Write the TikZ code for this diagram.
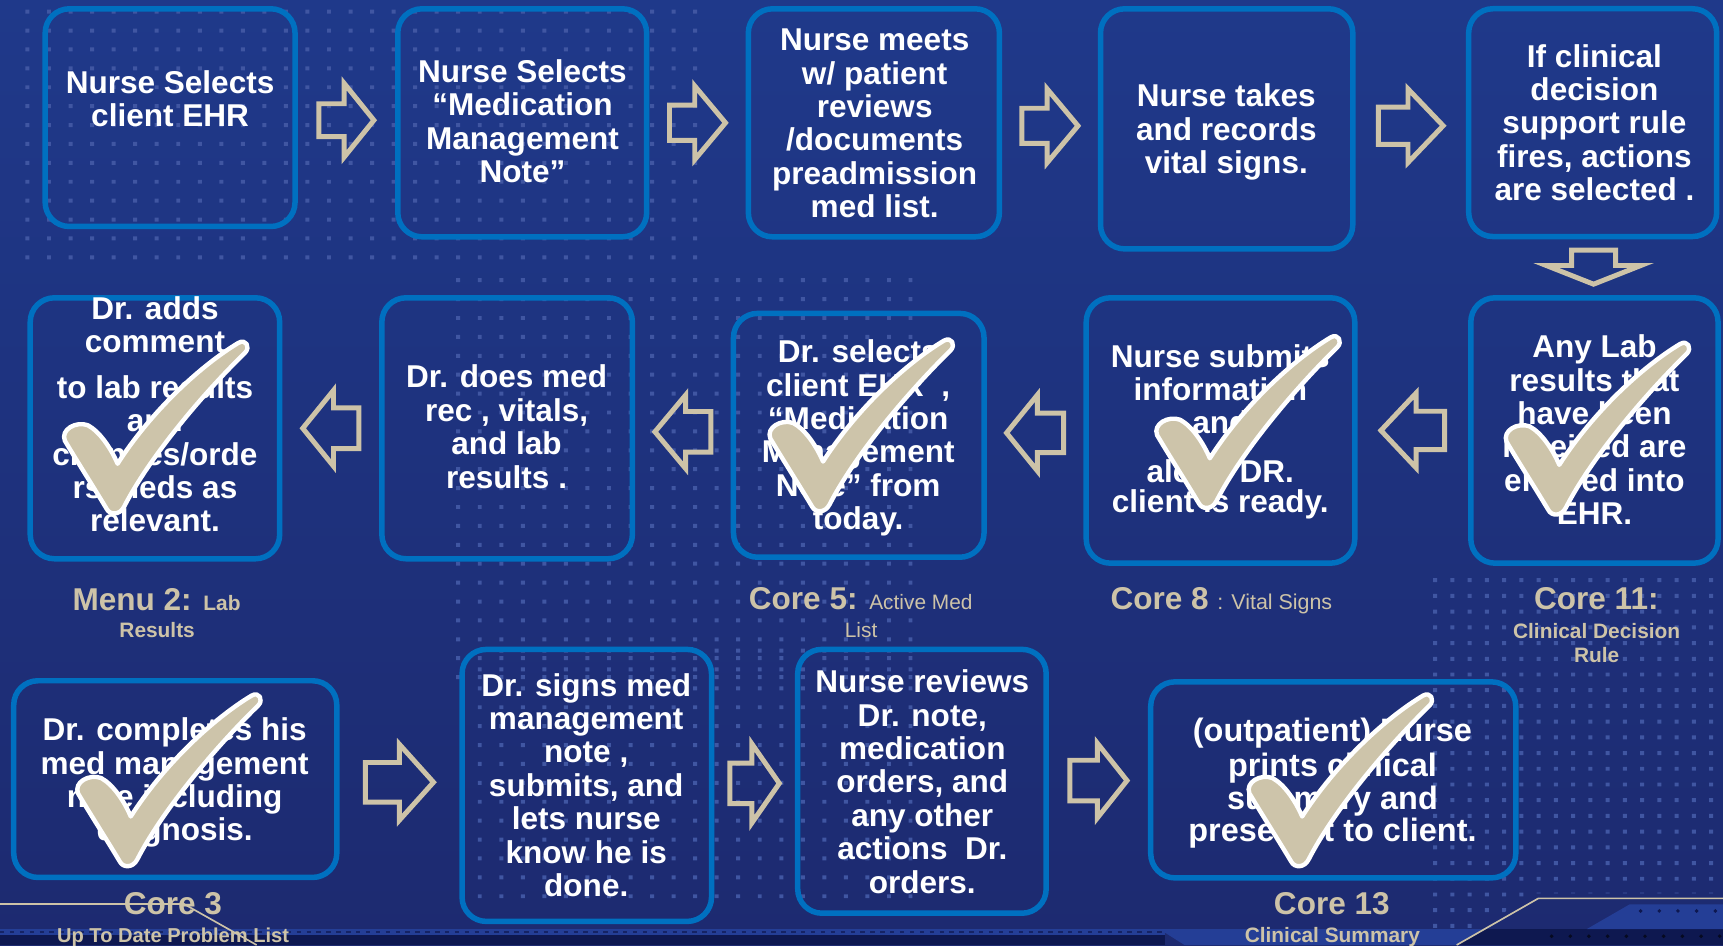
\documentclass[tikz,border=0pt]{standalone}
\usepackage{fontspec}
\setmainfont{Liberation Sans}
\usetikzlibrary{calc}
\definecolor{bgtop}{RGB}{31,57,138}
\definecolor{bgbot}{RGB}{29,42,112}
\definecolor{boxblue}{RGB}{0,112,192}
\definecolor{beige}{RGB}{205,195,168}
\definecolor{dotc}{RGB}{64,86,162}
\definecolor{navydark}{RGB}{14,24,80}
\definecolor{bandlight}{RGB}{36,62,150}
\definecolor{chkfill}{RGB}{205,196,170}
\newcommand\dotfield[6]{%
  \foreach \i in {0,...,#3}{\fill[dotc] \foreach \j in {0,...,#4}{({#1+\i*#5-1.8},{#2+\j*#6-1.8}) rectangle ++(3.6,3.6)};}}
\tikzset{
  box/.style={draw=boxblue, line width=5pt, rounded corners=22pt, inner sep=0pt},
  txt/.style={text=white, font=\fontsize{28.7}{30.4}\selectfont\bfseries, align=center, inner sep=0pt, anchor=north},
  lbig/.style={text=beige, font=\fontsize{28.7}{30.4}\selectfont\bfseries, inner sep=0pt, anchor=base},
  lsmall/.style={text=beige, font=\fontsize{19}{22}\selectfont\bfseries, inner sep=0pt, anchor=base},
  lreg/.style={text=beige, font=\fontsize{19}{22}\selectfont, inner sep=0pt, anchor=base},
  arrowline/.style={draw=beige, line width=4.5pt, line join=miter},
  decoline/.style={draw=beige, line width=1.5pt},
  pics/barrow/.style n args={4}{code={
    \path[arrowline] ({-#1/2},{-#3/2}) -- ({#1/2-#2},{-#3/2}) -- ({#1/2-#2},{-#4/2}) -- ({#1/2},0)
      -- ({#1/2-#2},{#4/2}) -- ({#1/2-#2},{#3/2}) -- ({-#1/2},{#3/2}) -- cycle;
  }},
  pics/chk/.style={code={
    \path[fill=chkfill, draw=white, line width=4pt, line join=round]
      (0,0) .. controls (-12,-20) and (-28,-45) .. (-38,-62)
      .. controls (-42,-72) and (-28,-80) .. (-17,-76)
      .. controls (-6,-70) and (4,-55) .. (10,-41)
      .. controls (40,-88) and (85,-130) .. (120,-151)
      .. controls (127,-155) and (131,-147) .. (126,-142)
      .. controls (85,-102) and (38,-45) .. (16,-2)
      .. controls (12,6) and (3,6) .. (0,0) -- cycle;
  }},
}
\begin{document}
\begin{tikzpicture}[x=1pt, y=-1pt]
\useasboundingbox (0,0) rectangle (1568,860);
\shade[top color=bgtop, bottom color=bgbot] (0,0) rectangle (1568,860);

% dot fields
\dotfield{25}{10.6}{31}{13}{19.6}{17.2}
\dotfield{417}{255}{21}{21}{19.6}{17.2}
\dotfield{436.6}{592}{20}{13}{19.6}{17.2}
\begin{scope}
  \clip (1300,520) -- (1568,520) -- (1568,813) -- (1398,813) -- (1322,858) -- (1300,858) -- cycle;
  \dotfield{1306}{528}{16}{22}{15.7}{14.3}
\end{scope}

% bottom strip
\fill[bandlight] (0,845.5) rectangle (1060,851);
\draw[navydark!70!bandlight, line width=1.5pt, dash pattern=on 4pt off 5pt] (0,848.2) -- (1060,848.2);
\fill[navydark] (0,851) rectangle (1060,860);
\fill[bandlight] (1055,845.5) -- (1350,845.5) -- (1326,860) -- (1078,860) -- cycle;
\fill[navydark] (1350,845.5) -- (1568,845.5) -- (1568,860) -- (1326,860) -- cycle;
\fill[bandlight] (1483,823) -- (1568,823) -- (1568,845.5) -- (1444,845.5) -- cycle;
\fill[navydark] \foreach \k in {0,...,5}{(1493+\k*17,829) circle (1.8)};
\fill[black!60!navydark] \foreach \k in {0,...,9}{(1412+\k*17,852) circle (1.8)};
\path[decoline] (0,822.7) -- (167.5,822.7) -- (233.6,860);
\path[decoline] (1325.6,860) -- (1400,817.5) -- (1568,817.5);

% boxes
\node[box, minimum width=227.4, minimum height=198.1] (b1) at (154.8,107.05) {};
\node[box, minimum width=226.5, minimum height=207.5] (b2) at (475.25,111.75) {};
\node[box, minimum width=228.5, minimum height=207.5] (b3) at (795.25,111.75) {};
\node[box, minimum width=229.6, minimum height=218.5] (b4) at (1116.3,117.25) {};
\node[box, minimum width=225.7, minimum height=207.3] (b5) at (1449.4,111.6) {};
\node[box, minimum width=227, minimum height=237.5] (b6) at (141,389.75) {};
\node[box, minimum width=228, minimum height=237.5] (b7) at (461.5,389.75) {};
\node[box, minimum width=228, minimum height=221.9] (b8) at (781.5,396.15) {};
\node[box, minimum width=244.4, minimum height=241.5] (b9) at (1110.7,391.75) {};
\node[box, minimum width=225, minimum height=241.5] (b10) at (1451,391.75) {};
\node[box, minimum width=294, minimum height=179] (b11) at (159.5,709) {};
\node[box, minimum width=227, minimum height=247.5] (b12) at (534,714.75) {};
\node[box, minimum width=226.1, minimum height=240.1] (b13) at (839,711) {};
\node[box, minimum width=332.2, minimum height=178.4] (b14) at (1213.3,709.7) {};

% block arrows
\pic at ($(b1.east)!0.5!(b2.west)$) {barrow={50}{27}{30}{67}};
\pic at ($(b2.east)!0.5!(b3.west)$) {barrow={51}{28}{32}{67}};
\pic at ($(b3.east)!0.5!(b4.west)$) {barrow={51}{28}{32}{67}};
\pic at ($(b4.east)!0.5!(b5.west)$) {barrow={59}{32}{34}{67}};
\pic[rotate=-90] at ($(b5.south)!0.5!(b10.north)$) {barrow={31}{17}{40}{86}};
\pic[rotate=180] at ($(b6.east)!0.5!(b7.west)$) {barrow={51}{28}{37}{69}};
\pic[rotate=180] at ($(b7.east)!0.5!(b8.west)$) {barrow={51}{28}{37}{67}};
\pic[rotate=180] at ($(b8.east)!0.5!(b9.west)$) {barrow={52}{28}{36}{69}};
\pic[rotate=180] at ($(b9.east)!0.5!(b10.west)$) {barrow={58}{32}{35}{68}};
\pic at ($(b11.east)!0.5!(b12.west)$) {barrow={62}{31}{36}{69}};
\pic at ($(b12.east)!0.5!(b13.west)$) {barrow={45}{25}{37}{72}};
\pic at ($(b13.east)!0.5!(b14.west)$) {barrow={52}{27}{37}{68}};

% box texts
\node[txt] (t1) at (154.8,75-11.4) {\strut Nurse Selects\\client EHR};
\node[txt] (t2) at (475.5,65-11.4) {\strut Nurse Selects\\“Medication\\Management\\Note”};
\node[txt] (t3) at (796,36-11.4) {\strut Nurse meets\\w/ patient\\reviews\\/documents\\preadmission\\med list.};
\node[txt] (t4) at (1116,87-11.4) {\strut Nurse takes\\and records\\vital signs.};
\node[txt] (t5) at (1451,51-11.4) {\strut If clinical\\decision\\support rule\\fires, actions\\are selected .};
\node[txt] (t6) at (141,280.5-11.4) {\strut Dr. adds\\comment\\[11pt]to lab results\\and\\changes/orde\\rs meds as\\relevant.};
\node[txt] (t7) at (461,343-11.4) {\strut Dr. does med\\rec , vitals,\\and lab\\results .};
\node[txt] (t8) at (781,320-11.4) {\strut Dr. selects\\client EHR~~,\\“Medication\\Management\\Note” from\\today.};
\node[txt] (t9) at (1110.5,324-11.4) {\strut Nurse submits\\information\\and\\[14pt]alerts DR.\\[-3pt]client is ready.};
\node[txt] (t10) at (1451,315.5-11.4) {\strut Any Lab\\results that\\have been\\received are\\entered into\\EHR.};
\node[txt] (t11) at (159,664-11.4) {\strut Dr. completes his\\med management\\note including\\diagnosis.};
\node[txt] (t12) at (533.5,623.4-11.4) {\strut Dr. signs med\\management\\note ,\\submits, and\\lets nurse\\know he is\\done.};
\node[txt] (t13) at (839.3,620.3-11.4) {\strut Nurse reviews\\Dr. note,\\medication\\orders, and\\any other\\actions~~Dr.\\orders.};
\node[txt, font=\fontsize{29.5}{29.8}\selectfont\bfseries] (t14) at (1212.6,664.3-10.7) {\strut (outpatient) Nurse\\prints clinical\\summary and\\present it to client.};

% labels
\node[lbig] (m2) at (142.5,555.9) {Menu 2: {\fontsize{19}{22}\selectfont Lab}};
\node[lsmall] (m2b) at (143,579.8) {Results};
\node[lbig] (c5) at (783.3,554.9) {Core 5: {\fontsize{19}{22}\selectfont\mdseries Active Med}};
\node[lreg] (c5b) at (783.6,579.8) {List};
\node[lbig] (c8) at (1111.5,554.9) {Core 8 {\fontsize{19.5}{22}\selectfont\mdseries : Vital Signs}};
\node[lbig] (c11) at (1452.7,554.9) {Core 11:};
\node[lsmall] (c11b) at (1453,581.3) {Clinical Decision};
\node[lsmall] (c11c) at (1453,602.5) {Rule};
\node[lbig] (c3) at (157.3,831.9) {Core 3};
\node[lsmall, font=\fontsize{18.3}{21}\selectfont\bfseries] (c3b) at (157.5,857.3) {Up To Date Problem List};
\node[lbig] (c13) at (1212,831.9) {Core 13};
\node[lsmall] (c13b) at (1212.5,857.5) {Clinical Summary};

% check marks
\pic at (97,463) {chk};
\pic at (739,461) {chk};
\pic at (1091,458) {chk};
\pic at (1409,464) {chk};
\pic at (109,784) {chk};
\pic at (1175,784) {chk};
\end{tikzpicture}
\end{document}
